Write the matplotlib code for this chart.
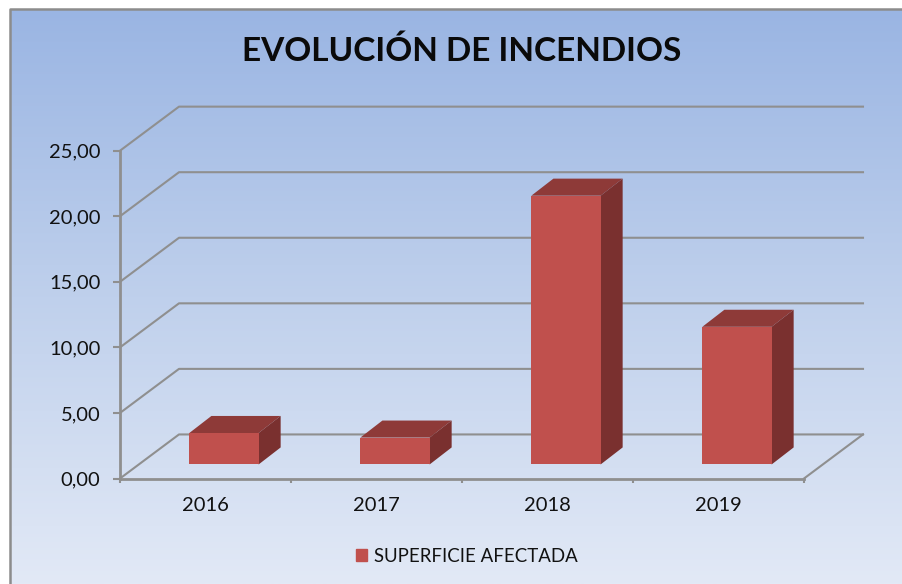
import numpy as np
import matplotlib.pyplot as plt
from matplotlib.colors import LinearSegmentedColormap
from matplotlib.patches import Polygon, Patch

# Datos
years = ['2016', '2017', '2018', '2019']
superficie = [2.4, 2.05, 20.5, 10.5]
y_ticks = [0, 5, 10, 15, 20, 25]
serie = 'SUPERFICIE AFECTADA'

W, H = 902, 584
plt.rcParams['font.family'] = ['Lato', 'DejaVu Sans']

fig = plt.figure(figsize=(W / 100, H / 100), dpi=100)
fig.patch.set_facecolor('white')

# Fondo con degradado y borde gris
bg = fig.add_axes([0, 0, 1, 1], zorder=0)
cmap = LinearSegmentedColormap.from_list('fondo', ['#9AB5E3', '#BFD0EC', '#E2E9F6'])
bg.imshow(np.linspace(0, 1, 256).reshape(-1, 1), cmap=cmap, aspect='auto',
          extent=[10 / W, 1, 0, 1 - 9 / H], origin='upper')
bg.set_xlim(0, 1)
bg.set_ylim(0, 1)
bg.axis('off')
bg.plot([10 / W, 10 / W, 1], [0, 1 - 8.5 / H, 1 - 8.5 / H], color='#8C8C8C', lw=1.8, clip_on=False)

# Plano frontal del grafico: x 120-804 px, y 478.5-150.7 px
ax = fig.add_axes([120 / W, 1 - 478.5 / H, 684 / W, 327.8 / H], zorder=1)
ax.patch.set_alpha(0)
ax.set_xlim(0, 4)
ax.set_ylim(0, 25)

gris = '#8F8F8F'
dx, dy = 0.345, 3.36       # profundidad de la pared
bx, by = 0.129, 1.30       # profundidad de cada barra
off_x, off_y = 0.108, 1.07 # desplazamiento de la barra respecto al suelo
ancho = 0.405

# Rejilla en perspectiva
for v in y_ticks:
    ax.plot([0, dx, 4 + dx], [v, v + dy, v + dy], color=gris, lw=1.5, clip_on=False, zorder=1)
ax.plot([4, 4 + dx], [0, dy], color=gris, lw=1.5, clip_on=False, zorder=1)

# Barras 3D
x = np.arange(len(years)) + 0.5 + off_x
ax.bar(x, superficie, width=ancho, bottom=off_y, color='#C0504D', zorder=4)
for xi, v in zip(x, superficie):
    l, r = xi - ancho / 2, xi + ancho / 2
    t = v + off_y
    ax.add_patch(Polygon([(l, t), (r, t), (r + bx, t + by), (l + bx, t + by)],
                         color='#8E3A38', lw=0, zorder=3, clip_on=False))
    ax.add_patch(Polygon([(r, off_y), (r, t), (r + bx, t + by), (r + bx, off_y + by)],
                         color='#7A302F', lw=0, zorder=3, clip_on=False))

# Ejes
for s in ['top', 'right']:
    ax.spines[s].set_visible(False)
for s in ['left', 'bottom']:
    ax.spines[s].set_color(gris)
    ax.spines[s].set_linewidth(2)
ax.set_yticks(y_ticks)
ax.set_yticklabels([f'{v:.2f}'.replace('.', ',') for v in y_ticks])
ax.set_xticks(range(5))
ax.set_xticklabels([])
ax.set_xticks(np.arange(len(years)) + 0.5, labels=years, minor=True)
ax.tick_params(axis='y', length=5, width=1.5, color=gris, labelsize=14.5, pad=9, labelcolor='#111111')
ax.tick_params(axis='x', which='major', length=3, width=1.5, color=gris)
ax.tick_params(axis='x', which='minor', length=0, labelsize=14.5, pad=13, labelcolor='#111111')

fig.text(462 / W, 1 - 51 / H, 'EVOLUCIÓN DE INCENDIOS', ha='center', va='center',
         fontsize=24, fontweight='bold', color='#0A0A0A')

fig.legend(handles=[Patch(color='#C0504D', label=serie)], loc='center',
           bbox_to_anchor=(467 / W, 1 - 556 / H), frameon=False, fontsize=13.4,
           handlelength=0.6, handleheight=0.6, handletextpad=0.4, labelcolor='#111111')

fig.savefig('out.png', dpi=100)
